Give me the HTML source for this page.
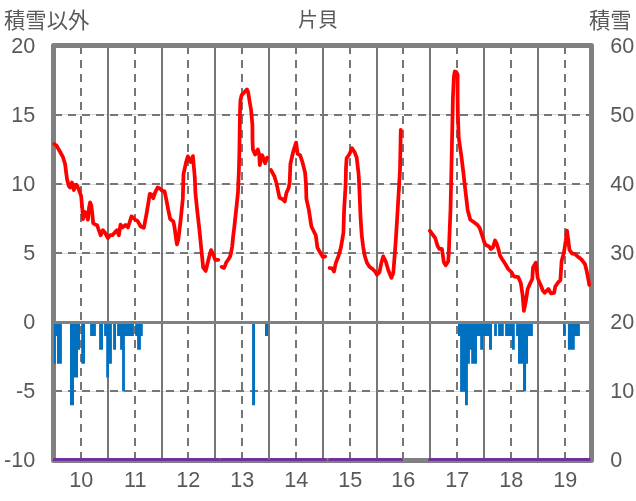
<!DOCTYPE html><html><head><meta charset="utf-8"><title>片貝</title><style>
html,body{margin:0;padding:0;background:#fff;}body{width:636px;height:501px;overflow:hidden;}
svg{display:block;}
.t{font-family:"Liberation Sans","Noto Sans CJK JP",sans-serif;fill:#595959;}
.j{font-family:"Liberation Sans","Noto Sans CJK JP",sans-serif;fill:#595959;}
</style></head><body>
<svg width="636" height="501" viewBox="0 0 636 501">
<rect width="636" height="501" fill="#fff"/>
<rect x="53.5" y="114" width="538.0" height="1" fill="#d9d9d9"/>
<rect x="53.5" y="184" width="538.0" height="1" fill="#d9d9d9"/>
<rect x="53.5" y="253" width="538.0" height="1" fill="#d9d9d9"/>
<rect x="53.5" y="391" width="538.0" height="1" fill="#d9d9d9"/>
<line x1="54" y1="115" x2="591.5" y2="115" stroke="#767676" stroke-width="2" stroke-dasharray="8 6"/>
<line x1="54" y1="184" x2="591.5" y2="184" stroke="#767676" stroke-width="2" stroke-dasharray="8 6"/>
<line x1="54" y1="253" x2="591.5" y2="253" stroke="#767676" stroke-width="2" stroke-dasharray="8 6"/>
<line x1="54" y1="391" x2="591.5" y2="391" stroke="#767676" stroke-width="2" stroke-dasharray="8 6"/>
<rect x="107" y="45.5" width="2" height="415.0" fill="#767676"/>
<rect x="161" y="45.5" width="2" height="415.0" fill="#767676"/>
<rect x="214" y="45.5" width="2" height="415.0" fill="#767676"/>
<rect x="268" y="45.5" width="2" height="415.0" fill="#767676"/>
<rect x="322" y="45.5" width="2" height="415.0" fill="#767676"/>
<rect x="376" y="45.5" width="2" height="415.0" fill="#767676"/>
<rect x="429" y="45.5" width="2" height="415.0" fill="#767676"/>
<rect x="483" y="45.5" width="2" height="415.0" fill="#767676"/>
<rect x="537" y="45.5" width="2" height="415.0" fill="#767676"/>
<line x1="81" y1="46" x2="81" y2="460.5" stroke="#767676" stroke-width="2" stroke-dasharray="8 6"/>
<line x1="135" y1="46" x2="135" y2="460.5" stroke="#767676" stroke-width="2" stroke-dasharray="8 6"/>
<line x1="188" y1="46" x2="188" y2="460.5" stroke="#767676" stroke-width="2" stroke-dasharray="8 6"/>
<line x1="242" y1="46" x2="242" y2="460.5" stroke="#767676" stroke-width="2" stroke-dasharray="8 6"/>
<line x1="296" y1="46" x2="296" y2="460.5" stroke="#767676" stroke-width="2" stroke-dasharray="8 6"/>
<line x1="350" y1="46" x2="350" y2="460.5" stroke="#767676" stroke-width="2" stroke-dasharray="8 6"/>
<line x1="403" y1="46" x2="403" y2="460.5" stroke="#767676" stroke-width="2" stroke-dasharray="8 6"/>
<line x1="457" y1="46" x2="457" y2="460.5" stroke="#767676" stroke-width="2" stroke-dasharray="8 6"/>
<line x1="511" y1="46" x2="511" y2="460.5" stroke="#767676" stroke-width="2" stroke-dasharray="8 6"/>
<line x1="565" y1="46" x2="565" y2="460.5" stroke="#767676" stroke-width="2" stroke-dasharray="8 6"/>
<rect x="53.5" y="45.5" width="538.0" height="415.0" fill="none" stroke="#808080" stroke-width="5" stroke-linejoin="round"/>
<path d="M53.9 322.17H61.9V363.67H57.0V336.00H55.9V363.67H53.9ZM70.0 322.17H80.0V349.83H78.0V377.50H74.0V405.17H70.0ZM81.2 322.17H85.0V363.67H81.2ZM90.1 322.17H95.9V336.00H90.1ZM99.1 322.17H103.0V349.83H99.1ZM104.1 322.17H111.9V363.67H109.0V377.50H106.2V336.00H104.1ZM113.1 322.17H116.0V349.83H113.1ZM117.1 322.17H133.9V336.00H124.9V391.33H122.1V349.83H120.1V336.00H117.1ZM135.2 322.17H142.8V336.00H140.9V349.83H137.1V336.00H135.2ZM252.1 322.17H255.0V405.17H252.1ZM265.0 322.17H268.1V336.00H265.0ZM458.0 322.17H492.0V349.83H489.0V336.00H483.1V349.83H480.2V336.00H477.0V363.67H471.2V349.83H469.9V363.67H467.9V405.17H465.0V391.33H460.1V336.00H458.0ZM494.1 322.17H496.9V336.00H494.1ZM498.1 322.17H503.8V336.00H498.1ZM505.1 322.17H514.8V349.83H511.9V336.00H505.1ZM516.1 322.17H532.9V336.00H528.0V363.67H526.1V391.33H523.0V363.67H518.0V336.00H516.1ZM563.0 322.17H565.8V336.00H563.0ZM567.9 322.17H579.9V336.00H574.8V349.83H567.9Z" fill="#0070c0"/>
<rect x="53.5" y="321" width="538.0" height="3" fill="#808080"/>
<path d="M54.2,144 L56.7,145.8 L59.9,151.5 L63,157.2 L65.1,164 L66.1,172.3 L67.1,179.5 L68.8,186 L70.1,187.6 L71.9,182.5 L73.2,185.1 L73.8,190.1 L75.4,185.7 L76.4,184.7 L77.6,186.6 L79.5,191.4 L81.1,195.8 L82.2,207.4 L83.1,219.1 L84.7,211.8 L86.3,213.1 L87.9,219.7 L89.1,207.4 L90.1,202.4 L91.3,205.5 L92.3,213.7 L93.2,223.2 L95.1,224.4 L97.2,225.2 L98.8,230.2 L100.7,235.3 L102.9,230.2 L105.1,232.8 L107.9,238.1 L110.4,235 L112.6,235 L115.1,232.1 L117,230.2 L118.9,235.3 L120.5,224.6 L122.7,227.4 L125.5,224.9 L128,227.4 L129.3,223.3 L131.5,216.4 L133.4,217.7 L135,219.6 L137.5,220.9 L140.7,226.5 L143.8,227.8 L146.3,215.2 L148.2,203.9 L149.8,193.8 L151.4,194.5 L153.2,198.2 L155.1,192.6 L157.6,187.5 L160.2,188.8 L162,190.7 L164.6,191.3 L166.4,200.1 L168.3,210.2 L170.2,219 L173.4,221.5 L174.6,227.8 L176.2,240 L177,244.3 L178.2,240 L179,234.1 L180.9,217.7 L182.8,198.9 L183.5,174 L186,162.6 L187.9,156.4 L190.6,162 L192.9,156.1 L194.8,177.7 L195.4,192.6 L197.3,211.4 L199.2,227.8 L201.3,248.9 L203.2,267.7 L205.7,270.9 L208.9,257.7 L211.1,250.1 L213.3,254.5 L215.2,259.8 L218.3,259.9" fill="none" stroke="#ff0000" stroke-width="3.75" stroke-linejoin="round" stroke-linecap="round"/>
<path d="M221.6,266.9 L224,268 L225.2,265.5 L226.2,262.5 L228,260 L230,256.8 L231.2,252 L232.1,247 L232.7,241 L233.2,236 L234.2,228 L236.9,203 L238,192 L238.9,170 L239.4,150 L239.7,130 L240.0,112 L240.4,100.7 L241.6,95.1 L244.3,92.2 L247,89.4 L248.2,92.5 L249.5,100.7 L251.1,110 L252.4,125 L252.5,140 L252.9,149.4 L255.1,154.5 L257.9,149.4 L259.2,154.5 L259.8,165.2 L262,155.1 L263.9,158.9 L265.1,163.3 L267.3,157.6" fill="none" stroke="#ff0000" stroke-width="3.75" stroke-linejoin="round" stroke-linecap="round"/>
<path d="M270.9,169.9 L274.5,176.5 L276.6,183.8 L279.5,197.7 L282.3,199 L284.8,201.4 L286.4,193 L288.8,187.5 L289.7,182 L290.4,164 L293.5,150.5 L296.1,142.6 L297.6,153.9 L300.1,155.2 L302.6,162.7 L305.1,172.8 L306.0,184.1 L306.4,198.8 L308.9,210.2 L311.4,226.5 L315.8,235.3 L317.4,247.6 L320.2,252.6 L322.9,257 L325.2,256.4" fill="none" stroke="#ff0000" stroke-width="3.75" stroke-linejoin="round" stroke-linecap="round"/>
<path d="M329.6,268 L332.1,268.3 L334,271.5 L335.9,262.7 L338.4,256.4 L340.9,247.6 L342.2,240 L343.4,232.8 L344.1,210.2 L345.6,185 L346,167.7 L346.6,158.3 L349.2,154.5 L352,148.2 L354.8,152.6 L356.7,157.7 L358.6,174 L359.2,185 L360.5,216.4 L361.7,235 L363.2,247 L364.8,256 L366.8,262.5 L369.5,266.8 L372.5,269 L375.1,271.5 L377,274.7 L379.5,272.2 L381.4,262.7 L383.2,256.4 L385.8,261.5 L388.3,270.3 L391.4,277.8 L393.3,272.8 L394.6,256.4 L395.8,240.1 L397.6,211 L400,170 L400.8,129.8" fill="none" stroke="#ff0000" stroke-width="3.75" stroke-linejoin="round" stroke-linecap="round"/>
<path d="M429.8,230.7 L432.5,234.4 L435.3,238.2 L437.5,245.8 L439.4,248.9 L441.9,248.9 L443.2,257.7 L443.8,262.1 L445.7,265.3 L448.2,261.5 L448.9,250.2 L449.5,234 L450.5,210 L451.4,170 L452.2,132 L452.9,98 L453.8,78 L454.7,71.5 L456.3,72 L457.6,74.5 L457.6,98 L457.9,115 L458.7,137.6 L461.4,156.5 L463.3,172 L465.2,188.9 L467.7,210.3 L470.3,219.7 L473.3,221.7 L477,224.5 L479.4,227.4 L481,231.9 L482.7,237.2 L484.7,243.4 L486.4,245.4 L488.8,246.2 L490.9,249.1 L492.9,247.5 L495,240.5 L496.6,243.4 L498.2,248.3 L500,255.5 L501.9,258.8 L505,263.5 L508.2,269 L511.3,272 L513.8,276.4 L518.2,277.1 L520.8,283 L522.6,295.2 L523.9,310.9 L525.8,301.4 L527.7,288.9 L530.2,283.3 L532.3,279 L533,267.6 L535.8,262.6 L536.8,270 L537.6,277.5 L539,281.5 L540.9,285.5 L542.8,290.5 L544.7,292.8 L548.4,289 L550.9,293.4 L554.1,292.8 L555.3,286.5 L557.9,282.7 L560.4,280.2 L561.6,261 L563.9,252.7 L565.8,240.2 L567,230.7 L568.3,240.2 L569.5,250.2 L572,253.4 L575.2,254.3 L577.7,256.5 L581.5,259.5 L585,264.1 L586.5,270.2 L588,277.7 L589.3,284.9" fill="none" stroke="#ff0000" stroke-width="3.75" stroke-linejoin="round" stroke-linecap="round"/>
<clipPath id="pc"><rect x="53" y="440" width="537.6" height="21"/></clipPath>
<path clip-path="url(#pc)" d="M40,460 L218.1,460 M222.1,460 L266.9,460 M270.9,460 L324.8,460 M330.2,460 L401,460 M430,460 L600,460" fill="none" stroke="#7030a0" stroke-width="4" stroke-linecap="round"/>
<g style="filter:grayscale(1)">
<text class="t" transform="translate(35.20,53.00) scale(0.96,1)" font-size="22.5" text-anchor="end">20</text>
<text class="t" transform="translate(35.20,121.97) scale(0.96,1)" font-size="22.5" text-anchor="end">15</text>
<text class="t" transform="translate(35.20,190.94) scale(0.96,1)" font-size="22.5" text-anchor="end">10</text>
<text class="t" transform="translate(35.20,259.91) scale(0.96,1)" font-size="22.5" text-anchor="end">5</text>
<text class="t" transform="translate(35.20,328.88) scale(0.96,1)" font-size="22.5" text-anchor="end">0</text>
<text class="t" transform="translate(35.20,397.85) scale(0.96,1)" font-size="22.5" text-anchor="end">-5</text>
<text class="t" transform="translate(35.20,466.82) scale(0.96,1)" font-size="22.5" text-anchor="end">-10</text>
<text class="t" transform="translate(610.20,53.00) scale(0.96,1)" font-size="22.5" text-anchor="start">60</text>
<text class="t" transform="translate(610.20,121.97) scale(0.96,1)" font-size="22.5" text-anchor="start">50</text>
<text class="t" transform="translate(610.20,190.94) scale(0.96,1)" font-size="22.5" text-anchor="start">40</text>
<text class="t" transform="translate(610.20,259.91) scale(0.96,1)" font-size="22.5" text-anchor="start">30</text>
<text class="t" transform="translate(610.20,328.88) scale(0.96,1)" font-size="22.5" text-anchor="start">20</text>
<text class="t" transform="translate(610.20,397.85) scale(0.96,1)" font-size="22.5" text-anchor="start">10</text>
<text class="t" transform="translate(610.20,466.82) scale(0.96,1)" font-size="22.5" text-anchor="start">0</text>
<text class="t" transform="translate(81.30,487.40) scale(0.96,1)" font-size="22.5" text-anchor="middle">10</text>
<text class="t" transform="translate(135.30,487.40) scale(0.96,1)" font-size="22.5" text-anchor="middle">11</text>
<text class="t" transform="translate(188.30,487.40) scale(0.96,1)" font-size="22.5" text-anchor="middle">12</text>
<text class="t" transform="translate(242.30,487.40) scale(0.96,1)" font-size="22.5" text-anchor="middle">13</text>
<text class="t" transform="translate(296.30,487.40) scale(0.96,1)" font-size="22.5" text-anchor="middle">14</text>
<text class="t" transform="translate(350.30,487.40) scale(0.96,1)" font-size="22.5" text-anchor="middle">15</text>
<text class="t" transform="translate(403.30,487.40) scale(0.96,1)" font-size="22.5" text-anchor="middle">16</text>
<text class="t" transform="translate(457.30,487.40) scale(0.96,1)" font-size="22.5" text-anchor="middle">17</text>
<text class="t" transform="translate(511.30,487.40) scale(0.96,1)" font-size="22.5" text-anchor="middle">18</text>
<text class="t" transform="translate(565.30,487.40) scale(0.96,1)" font-size="22.5" text-anchor="middle">19</text>
<text class="j" x="4" y="27.6" font-size="21.33">積雪以外</text>
<text class="j" x="318" y="27.2" font-size="20" text-anchor="middle">片貝</text>
<text class="j" x="589" y="27.6" font-size="21.33">積雪</text>
</g>
</svg></body></html>
